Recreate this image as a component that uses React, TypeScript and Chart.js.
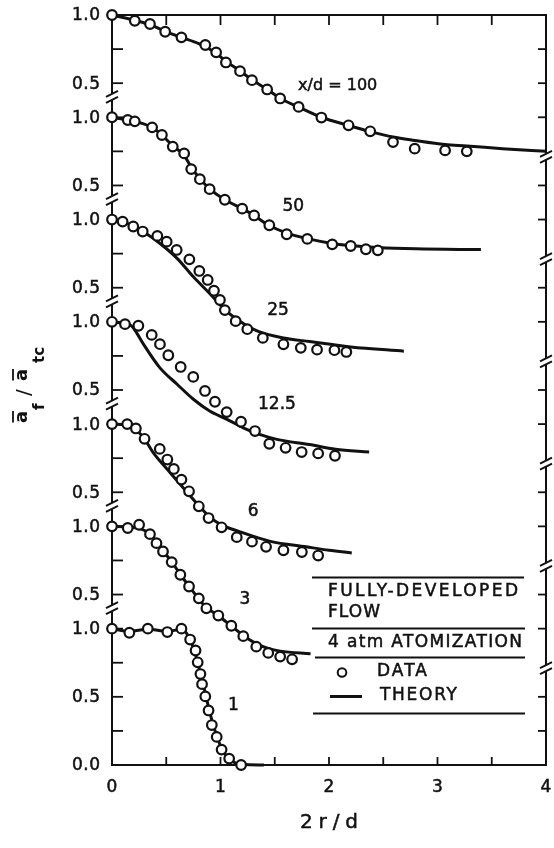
import React, { useEffect, useRef } from "react";
import { Chart, registerables } from "chart.js";

Chart.register(...registerables);

// ---------- axis / tick text ----------
const X_MIN = 0;
const X_MAX = 4;
const X_TICK_VALUES = [0, 1, 2, 3, 4];
const X_TICK_LABELS = ["0", "1", "2", "3", "4"];
const X_MINOR_TICKS = [0.5, 1, 1.5, 2, 2.5, 3, 3.5];
const PANEL_TICK_VALUES = [1.0, 0.75, 0.5];
const PANEL_TICK_LABELS = ["1.0", "", "0.5"];
const BOTTOM_EXTRA_TICK_VALUES = [0.25, 0.0];
const BOTTOM_EXTRA_TICK_LABELS = ["", "0.0"];
const X_TITLE = "2r/d";

// panels from bottom (x/d = 1) to top (x/d = 100); each panel is shifted up by PANEL_STEP
const PANEL_NAMES = ["1", "3", "6", "12.5", "25", "50", "x/d = 100"];
const PANEL_STEP = 0.75;
const Y_MAX = 1 + 6 * PANEL_STEP;

// ---------- x/d = 1 ----------
const DATA_X_1 = [0, 0.16, 0.33, 0.51, 0.64, 0.72, 0.77, 0.79, 0.815, 0.83, 0.86, 0.89, 0.92, 0.965, 1.01, 1.08, 1.19];
const DATA_Y_1 = [1.0, 0.97, 1.0, 0.975, 1.0, 0.92, 0.84, 0.753, 0.667, 0.593, 0.503, 0.4, 0.293, 0.206, 0.113, 0.047, 0.0];
const THEORY_X_1 = [0, 0.16, 0.33, 0.51, 0.64, 0.7, 0.75, 0.8, 0.85, 0.9, 0.95, 1.0, 1.05, 1.1, 1.2, 1.4];
const THEORY_Y_1 = [1.0, 0.98, 0.995, 0.98, 0.995, 0.95, 0.86, 0.72, 0.56, 0.39, 0.25, 0.14, 0.07, 0.03, 0.005, 0.0];

// ---------- x/d = 3 ----------
const DATA_X_3 = [0, 0.145, 0.25, 0.35, 0.41, 0.47, 0.55, 0.63, 0.71, 0.8, 0.87, 0.98, 1.1, 1.21, 1.33, 1.44, 1.55, 1.66];
const DATA_Y_3 = [1.0, 0.988, 1.012, 0.943, 0.877, 0.816, 0.738, 0.645, 0.559, 0.472, 0.399, 0.346, 0.271, 0.195, 0.118, 0.072, 0.045, 0.025];
const THEORY_X_3 = [0, 0.15, 0.25, 0.35, 0.45, 0.55, 0.65, 0.75, 0.85, 0.98, 1.1, 1.21, 1.33, 1.44, 1.55, 1.83];
const THEORY_Y_3 = [1.0, 0.995, 0.985, 0.945, 0.84, 0.74, 0.625, 0.52, 0.42, 0.345, 0.27, 0.2, 0.14, 0.105, 0.085, 0.065];

// ---------- x/d = 6 ----------
const DATA_X_6 = [0, 0.14, 0.22, 0.3, 0.44, 0.51, 0.57, 0.64, 0.71, 0.8, 0.89, 1.01, 1.15, 1.29, 1.42, 1.58, 1.75, 1.9];
const DATA_Y_6 = [1.0, 1.0, 0.968, 0.892, 0.818, 0.74, 0.671, 0.593, 0.507, 0.397, 0.311, 0.243, 0.171, 0.138, 0.1, 0.075, 0.062, 0.036];
const THEORY_X_6 = [0, 0.14, 0.22, 0.3, 0.38, 0.54, 0.66, 0.78, 0.9, 1.0, 1.18, 1.46, 1.79, 2.0, 2.21];
const THEORY_Y_6 = [1.0, 0.995, 0.96, 0.89, 0.79, 0.64, 0.53, 0.42, 0.32, 0.265, 0.21, 0.14, 0.1, 0.075, 0.055];

// ---------- x/d = 12.5 ----------
const DATA_X_12 = [0, 0.12, 0.243, 0.366, 0.442, 0.519, 0.633, 0.749, 0.857, 0.949, 1.057, 1.189, 1.318, 1.45, 1.6, 1.748, 1.9, 2.055];
const DATA_Y_12 = [1.0, 0.983, 0.971, 0.904, 0.836, 0.755, 0.669, 0.596, 0.493, 0.414, 0.338, 0.267, 0.199, 0.106, 0.076, 0.045, 0.035, 0.018];
const THEORY_X_12 = [0, 0.1, 0.18, 0.23, 0.29, 0.44, 0.6, 0.75, 0.9, 1.06, 1.21, 1.36, 1.52, 1.82, 2.06, 2.37];
const THEORY_Y_12 = [1.0, 0.99, 0.97, 0.915, 0.836, 0.664, 0.542, 0.432, 0.346, 0.285, 0.223, 0.174, 0.138, 0.1, 0.065, 0.045];

// ---------- x/d = 25 ----------
const DATA_X_25 = [0, 0.098, 0.196, 0.283, 0.418, 0.504, 0.596, 0.713, 0.805, 0.882, 0.94, 0.995, 1.04, 1.14, 1.247, 1.39, 1.58, 1.74, 1.89, 2.05, 2.16];
const DATA_Y_25 = [1.0, 0.985, 0.949, 0.912, 0.88, 0.838, 0.777, 0.708, 0.623, 0.557, 0.478, 0.41, 0.336, 0.255, 0.196, 0.132, 0.085, 0.059, 0.046, 0.042, 0.029];
const THEORY_X_25 = [0, 0.1, 0.2, 0.3, 0.44, 0.6, 0.75, 0.9, 1.06, 1.21, 1.36, 1.58, 1.82, 2.2, 2.69];
const THEORY_Y_25 = [1.0, 0.985, 0.95, 0.905, 0.826, 0.715, 0.58, 0.458, 0.324, 0.238, 0.176, 0.132, 0.105, 0.066, 0.035];

// ---------- x/d = 50 ----------
const DATA_X_50 = [0, 0.145, 0.21, 0.37, 0.46, 0.56, 0.665, 0.73, 0.81, 0.9, 1.04, 1.2, 1.31, 1.45, 1.61, 1.8, 2.03, 2.2, 2.34, 2.45];
const DATA_Y_50 = [1.0, 0.98, 0.97, 0.926, 0.87, 0.785, 0.735, 0.62, 0.546, 0.473, 0.395, 0.33, 0.28, 0.208, 0.142, 0.108, 0.068, 0.056, 0.032, 0.024];
const THEORY_X_50 = [0, 0.15, 0.21, 0.37, 0.46, 0.56, 0.665, 0.73, 0.81, 0.9, 1.04, 1.2, 1.31, 1.43, 1.61, 1.8, 2.03, 2.2, 2.45, 2.8, 3.4];
const THEORY_Y_50 = [1.0, 0.98, 0.97, 0.925, 0.87, 0.79, 0.72, 0.635, 0.55, 0.475, 0.395, 0.33, 0.28, 0.215, 0.15, 0.11, 0.075, 0.06, 0.045, 0.035, 0.03];

// ---------- x/d = 100 ----------
const DATA_X_100 = [0, 0.21, 0.35, 0.49, 0.64, 0.86, 0.96, 1.05, 1.18, 1.29, 1.43, 1.55, 1.72, 1.93, 2.18, 2.38, 2.59, 2.79, 3.07, 3.27];
const DATA_Y_100 = [1.0, 0.958, 0.934, 0.877, 0.836, 0.78, 0.726, 0.652, 0.588, 0.522, 0.454, 0.388, 0.326, 0.248, 0.191, 0.147, 0.068, 0.02, 0.007, 0.0];
const THEORY_X_100 = [0, 0.21, 0.35, 0.49, 0.64, 0.8, 0.96, 1.05, 1.18, 1.29, 1.43, 1.55, 1.72, 1.93, 2.18, 2.38, 2.59, 2.79, 3.07, 3.27, 3.6, 4.0];
const THEORY_Y_100 = [1.0, 0.96, 0.93, 0.88, 0.835, 0.79, 0.72, 0.66, 0.59, 0.525, 0.455, 0.39, 0.325, 0.25, 0.19, 0.145, 0.105, 0.08, 0.05, 0.04, 0.02, 0.0];

// panel label anchors (x in 2r/d, y in panel units), bottom to top
const PANEL_LABEL_X = [1.12, 1.226, 1.3, 1.52, 1.53, 1.67, 2.08];
const PANEL_LABEL_Y = [0.437, 0.463, 0.36, 0.393, 0.33, 0.346, 0.478];

// legend text
const LEGEND_TITLE = ["FULLY-DEVELOPED", "FLOW"];
const LEGEND_CONDITION = "4 atm ATOMIZATION";
const LEGEND_DATA = "DATA";
const LEGEND_THEORY = "THEORY";

const PANELS = [
  { dx: DATA_X_1, dy: DATA_Y_1, tx: THEORY_X_1, ty: THEORY_Y_1 },
  { dx: DATA_X_3, dy: DATA_Y_3, tx: THEORY_X_3, ty: THEORY_Y_3 },
  { dx: DATA_X_6, dy: DATA_Y_6, tx: THEORY_X_6, ty: THEORY_Y_6 },
  { dx: DATA_X_12, dy: DATA_Y_12, tx: THEORY_X_12, ty: THEORY_Y_12 },
  { dx: DATA_X_25, dy: DATA_Y_25, tx: THEORY_X_25, ty: THEORY_Y_25 },
  { dx: DATA_X_50, dy: DATA_Y_50, tx: THEORY_X_50, ty: THEORY_Y_50 },
  { dx: DATA_X_100, dy: DATA_Y_100, tx: THEORY_X_100, ty: THEORY_Y_100 },
];

const INK = "#111111";
const FAMILY = '"DejaVu Sans", "Liberation Sans", sans-serif';
const LEFT_BREAK_OFFSET = 0.4;
const RIGHT_BREAK_OFFSET = -0.04;

function line(ctx: CanvasRenderingContext2D, x1: number, y1: number, x2: number, y2: number) {
  ctx.beginPath();
  ctx.moveTo(x1, y1);
  ctx.lineTo(x2, y2);
  ctx.stroke();
}

function spacedText(
  ctx: CanvasRenderingContext2D,
  text: string,
  x: number,
  y: number,
  font: string,
  width: number | null,
  align: "left" | "center" | "right"
) {
  ctx.font = font;
  (ctx as any).letterSpacing = "0px";
  const w0 = ctx.measureText(text).width;
  const n = Array.from(text).length;
  let ls = 0;
  if (width !== null && n > 1) ls = (width - w0) / (n - 1);
  const total = w0 + ls * (n - 1);
  let sx = x;
  if (align === "center") sx = x - total / 2;
  if (align === "right") sx = x - total;
  (ctx as any).letterSpacing = `${ls}px`;
  ctx.textAlign = "left";
  ctx.fillText(text, sx, y);
  // slight outline to mimic the heavier lettering of the original
  ctx.lineWidth = 0.5;
  ctx.strokeText(text, sx, y);
  (ctx as any).letterSpacing = "0px";
}

function brokenVertical(ctx: CanvasRenderingContext2D, x: number, top: number, bottom: number, breaks: number[]) {
  const gap = 3;
  const sorted = [...breaks].sort((a, b) => a - b);
  let y = top;
  for (const b of sorted) {
    line(ctx, x, y, x, b - gap);
    y = b + gap;
  }
  line(ctx, x, y, x, bottom);
  for (const b of sorted) {
    line(ctx, x - 6, b, x + 6, b - 6);
    line(ctx, x - 6, b + 6, x + 6, b);
  }
}

const framePlugin = {
  id: "frame",
  beforeDatasetsDraw(chart: any) {
    const { ctx } = chart;
    const xs = chart.scales.x;
    const ys = chart.scales.y;
    const L = xs.getPixelForValue(X_MIN);
    const R = xs.getPixelForValue(X_MAX);
    const T = ys.getPixelForValue(Y_MAX);
    const B = ys.getPixelForValue(0);
    ctx.save();
    ctx.strokeStyle = INK;
    ctx.lineWidth = 2;
    ctx.lineCap = "butt";
    line(ctx, L - 1, T, R + 1, T);
    line(ctx, L - 1, B, R + 1, B);
    const ks = [1, 2, 3, 4, 5, 6];
    const leftBreaks = ks.map((k) => ys.getPixelForValue(k * PANEL_STEP + LEFT_BREAK_OFFSET));
    const rightBreakVals = ks.map((k) => k * PANEL_STEP + RIGHT_BREAK_OFFSET);
    const rightBreaks = rightBreakVals.map((v) => ys.getPixelForValue(v));
    brokenVertical(ctx, L, T, B, leftBreaks);
    brokenVertical(ctx, R, T, B, rightBreaks);

    // left ticks (inward)
    ctx.lineWidth = 1.8;
    PANELS.forEach((_, k) => {
      const vals = k === 0 ? [...PANEL_TICK_VALUES, ...BOTTOM_EXTRA_TICK_VALUES] : PANEL_TICK_VALUES;
      vals.forEach((v) => {
        const py = ys.getPixelForValue(v + k * PANEL_STEP);
        line(ctx, L, py, L + 11, py);
      });
    });
    // right ticks (inward)
    for (let t = 0.25; t < Y_MAX - 0.01; t += 0.25) {
      if (rightBreakVals.some((b) => Math.abs(b - t) < 0.07)) continue;
      const py = ys.getPixelForValue(t);
      line(ctx, R - 8, py, R, py);
    }
    // top & bottom ticks
    X_MINOR_TICKS.forEach((v) => {
      const px = xs.getPixelForValue(v);
      line(ctx, px, T, px, T + 10);
      line(ctx, px, B, px, B - 8);
    });
    ctx.restore();
  },
  afterDatasetsDraw(chart: any) {
    const { ctx } = chart;
    const xs = chart.scales.x;
    const ys = chart.scales.y;
    const L = xs.getPixelForValue(X_MIN);
    const R = xs.getPixelForValue(X_MAX);
    const T = ys.getPixelForValue(Y_MAX);
    const B = ys.getPixelForValue(0);
    ctx.save();
    ctx.fillStyle = INK;
    ctx.strokeStyle = INK;
    ctx.textBaseline = "middle";
    const tickFont = `17px ${FAMILY}`;

    // left tick labels
    PANELS.forEach((_, k) => {
      const vals = k === 0 ? [...PANEL_TICK_VALUES, ...BOTTOM_EXTRA_TICK_VALUES] : PANEL_TICK_VALUES;
      const labs = k === 0 ? [...PANEL_TICK_LABELS, ...BOTTOM_EXTRA_TICK_LABELS] : PANEL_TICK_LABELS;
      vals.forEach((v, i) => {
        if (!labs[i]) return;
        const py = ys.getPixelForValue(v + k * PANEL_STEP);
        spacedText(ctx, labs[i], L - 12, py + 1, tickFont, 28, "right");
      });
    });
    // x tick labels
    X_TICK_VALUES.forEach((v, i) => {
      spacedText(ctx, X_TICK_LABELS[i], xs.getPixelForValue(v), B + 23, tickFont, null, "center");
    });

    // panel labels
    PANEL_NAMES.forEach((name, k) => {
      const px = xs.getPixelForValue(PANEL_LABEL_X[k]);
      const py = ys.getPixelForValue(PANEL_LABEL_Y[k] + k * PANEL_STEP);
      const font = k === 6 ? `16px ${FAMILY}` : `17px ${FAMILY}`;
      spacedText(ctx, name, px, py, font, null, "center");
    });

    // x title
    spacedText(ctx, X_TITLE, (L + R) / 2, B + 58, `20px ${FAMILY}`, 58, "center");

    // y title (rotated): a-bar_f / a-bar_tc
    ctx.save();
    ctx.translate(L - 85, (T + B) / 2 + 33);
    ctx.rotate(-Math.PI / 2);
    ctx.textBaseline = "alphabetic";
    ctx.textAlign = "left";
    ctx.lineWidth = 1.8;
    const main = `bold 18px ${FAMILY}`;
    const sub = `bold 15px ${FAMILY}`;
    ctx.font = main;
    ctx.fillText("a", 0, 0);
    line(ctx, 0.5, -14, 12, -14);
    ctx.font = sub;
    ctx.fillText("f", 13, 17);
    ctx.font = `20px ${FAMILY}`;
    ctx.fillText("/", 27, 3);
    ctx.font = main;
    ctx.fillText("a", 42, 0);
    line(ctx, 42.5, -14, 54, -14);
    ctx.font = sub;
    ctx.fillText("tc", 60, 17);
    ctx.restore();

    // legend
    const lf = `17px ${FAMILY}`;
    ctx.lineWidth = 1.8;
    line(ctx, L + 200, 577.5, R - 22, 577.5);
    spacedText(ctx, LEGEND_TITLE[0], L + 216, 592, lf, 190, "left");
    spacedText(ctx, LEGEND_TITLE[1], L + 216, 613, lf, 52, "left");
    ctx.lineWidth = 1.8;
    line(ctx, L + 200, 628.5, R - 21, 628.5);
    spacedText(ctx, LEGEND_CONDITION, L + 216, 642.5, lf, 194, "left");
    ctx.lineWidth = 1.8;
    line(ctx, L + 203, 657.5, R - 21, 657.5);
    ctx.lineWidth = 2;
    ctx.fillStyle = "#fff";
    ctx.beginPath();
    ctx.arc(L + 230, 672.5, 4.3, 0, Math.PI * 2);
    ctx.fill();
    ctx.stroke();
    ctx.fillStyle = INK;
    spacedText(ctx, LEGEND_DATA, L + 265, 672, lf, 50, "left");
    ctx.lineWidth = 3;
    line(ctx, L + 218, 696.5, L + 250, 696.5);
    spacedText(ctx, LEGEND_THEORY, L + 268, 696, lf, 77, "left");
    ctx.lineWidth = 1.8;
    line(ctx, L + 201, 713.5, R - 21, 713.5);
    ctx.restore();
  },
};

export default function App() {
  const ref = useRef<HTMLCanvasElement>(null);
  useEffect(() => {
    const canvas = ref.current;
    if (!canvas) return;
    const datasets: any[] = [];
    PANELS.forEach((p, k) => {
      const off = k * PANEL_STEP;
      datasets.push({
        label: `theory ${PANEL_NAMES[k]}`,
        data: p.tx.map((x, i) => ({ x, y: p.ty[i] + off })),
        borderColor: INK,
        borderWidth: 3,
        pointRadius: 0,
        cubicInterpolationMode: "monotone",
        fill: false,
        order: 2,
        clip: false,
      });
      datasets.push({
        label: `data ${PANEL_NAMES[k]}`,
        data: p.dx.map((x, i) => ({ x, y: p.dy[i] + off })),
        showLine: false,
        pointRadius: 4.8,
        pointBorderWidth: 2.2,
        pointBackgroundColor: "#ffffff",
        pointBorderColor: INK,
        borderColor: INK,
        order: 1,
        clip: false,
      });
    });
    const chart = new Chart(canvas, {
      type: "line",
      data: { datasets },
      options: {
        responsive: false,
        animation: false,
        devicePixelRatio: 1,
        events: [],
        layout: { padding: { left: 112, right: 8, top: 15, bottom: 83 } },
        plugins: { legend: { display: false }, tooltip: { enabled: false } },
        scales: {
          x: { type: "linear", min: X_MIN, max: X_MAX, display: false },
          y: { type: "linear", min: 0, max: Y_MAX, display: false },
        },
      },
      plugins: [framePlugin],
    } as any);
    return () => chart.destroy();
  }, []);

  return (
    <div style={{ position: "absolute", left: 0, top: 0, width: 554, height: 848, background: "#fff" }}>
      <canvas ref={ref} width={554} height={848} style={{ display: "block" }} />
    </div>
  );
}
